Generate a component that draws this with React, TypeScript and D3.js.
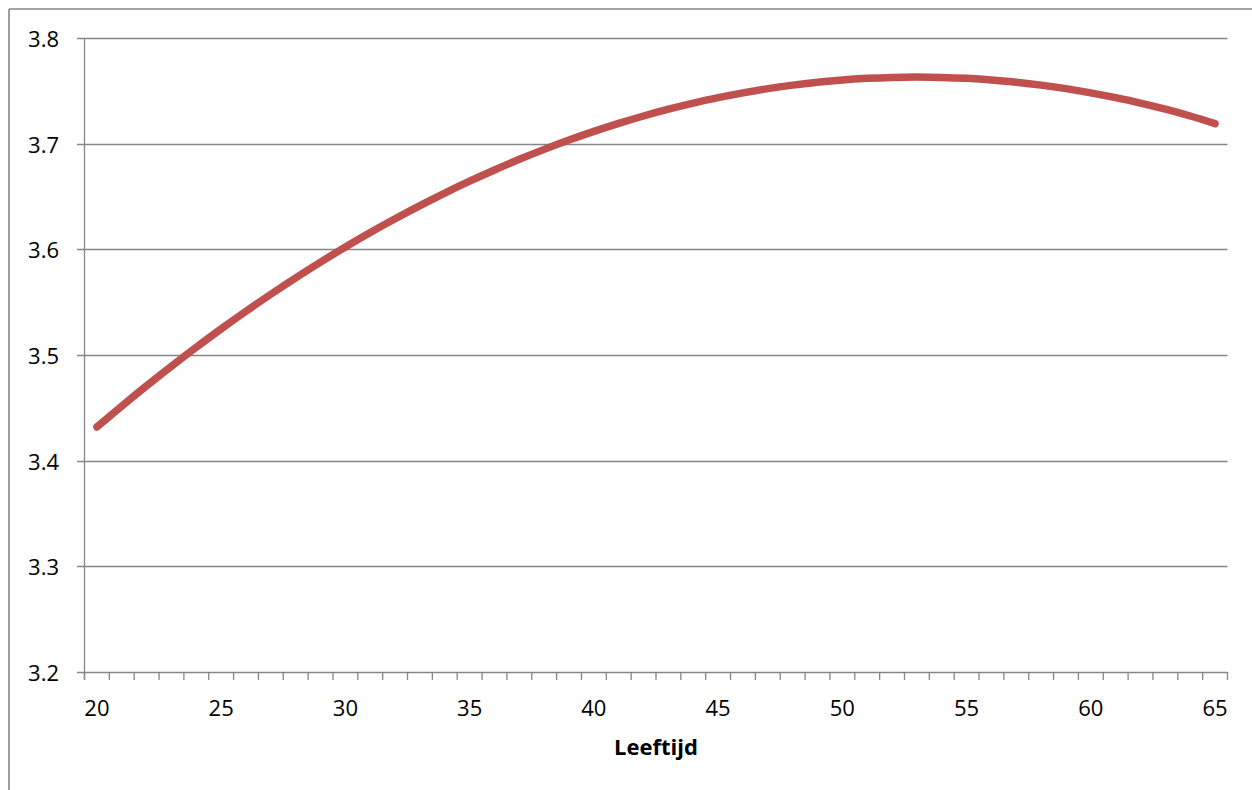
import React from "react";
import * as d3 from "d3";

const ages: number[] = [
  20, 21, 22, 23, 24, 25, 26, 27, 28, 29, 30, 31, 32, 33, 34, 35, 36, 37, 38, 39, 40, 41, 42,
  43, 44, 45, 46, 47, 48, 49, 50, 51, 52, 53, 54, 55, 56, 57, 58, 59, 60, 61, 62, 63, 64, 65,
];
const scores: number[] = [
  3.4319, 3.4517, 3.4709, 3.4894, 3.5073, 3.5247, 3.5414, 3.5575, 3.573, 3.5879, 3.6022,
  3.6159, 3.6289, 3.6414, 3.6533, 3.6645, 3.6751, 3.6852, 3.6946, 3.7034, 3.7116, 3.7192,
  3.7262, 3.7326, 3.7384, 3.7435, 3.7481, 3.7521, 3.7554, 3.7581, 3.7603, 3.7618, 3.7627,
  3.763, 3.7627, 3.7618, 3.7603, 3.7581, 3.7554, 3.7521, 3.7481, 3.7435, 3.7384, 3.7326,
  3.7262, 3.719,
];
const yTicks: number[] = [3.2, 3.3, 3.4, 3.5, 3.6, 3.7, 3.8];
const xLabels: number[] = [20, 25, 30, 35, 40, 45, 50, 55, 60, 65];
const xTitle = "Leeftijd";

const W = 1252;
const H = 790;
const left = 84.5;
const right = 1227.5;
const top = 38;
const bottom = 672;
const grey = "#868686";
const font = "'Open Sans', 'Noto Sans', sans-serif";

export default function App() {
  const x = d3.scaleBand<number>().domain(ages).range([left, right]).padding(0);
  const y = d3.scaleLinear().domain([3.2, 3.8]).range([bottom, top]);
  const cx = (a: number) => (x(a) as number) + x.bandwidth() / 2;
  const line = d3
    .line<number>()
    .x((_, i) => cx(ages[i]))
    .y((d) => y(d))
    .curve(d3.curveCatmullRom);
  const path = line(scores) || "";
  const boundaries = ages.map((a) => x(a) as number).concat([right]);

  return (
    <svg
      width={W}
      height={H}
      style={{ position: "absolute", left: 0, top: 0, display: "block", background: "#fff" }}
    >
      <rect x={0} y={0} width={W} height={H} fill="#fff" />
      {/* outer chart border */}
      <line x1={9} y1={9} x2={W} y2={9} stroke={grey} strokeWidth={1.6} />
      <line x1={9} y1={9} x2={9} y2={H} stroke={grey} strokeWidth={1.6} />

      {/* gridlines */}
      {yTicks.map((t) => (
        <line
          key={"g" + t}
          x1={77}
          x2={right}
          y1={Math.round(y(t)) + 0.5}
          y2={Math.round(y(t)) + 0.5}
          stroke={grey}
          strokeWidth={1.3}
        />
      ))}
      {/* y axis line */}
      <line x1={left} x2={left} y1={top} y2={bottom + 8} stroke={grey} strokeWidth={1.3} />
      {/* x ticks */}
      {boundaries.map((b, i) => (
        <line
          key={"t" + i}
          x1={b}
          x2={b}
          y1={bottom}
          y2={bottom + 8}
          stroke={grey}
          strokeWidth={1.3}
        />
      ))}

      {/* y labels */}
      {yTicks.map((t) => (
        <text
          key={"yl" + t}
          x={59}
          y={y(t)}
          textAnchor="end"
          dominantBaseline="central"
          fontFamily={font}
          fontSize={22}
          fill="#000"
        >
          {t.toFixed(1)}
        </text>
      ))}
      {/* x labels */}
      {xLabels.map((a) => (
        <text
          key={"xl" + a}
          x={cx(a)}
          y={707}
          textAnchor="middle"
          dominantBaseline="central"
          fontFamily={font}
          fontSize={22}
          fill="#000"
        >
          {a}
        </text>
      ))}
      <text
        x={(left + right) / 2}
        y={755}
        textAnchor="middle"
        fontFamily={font}
        fontSize={22}
        fontWeight="bold"
        fill="#000"
      >
        {xTitle}
      </text>

      <path
        d={path}
        fill="none"
        stroke="#C0504D"
        strokeWidth={7.5}
        strokeLinecap="round"
        strokeLinejoin="round"
      />
    </svg>
  );
}
